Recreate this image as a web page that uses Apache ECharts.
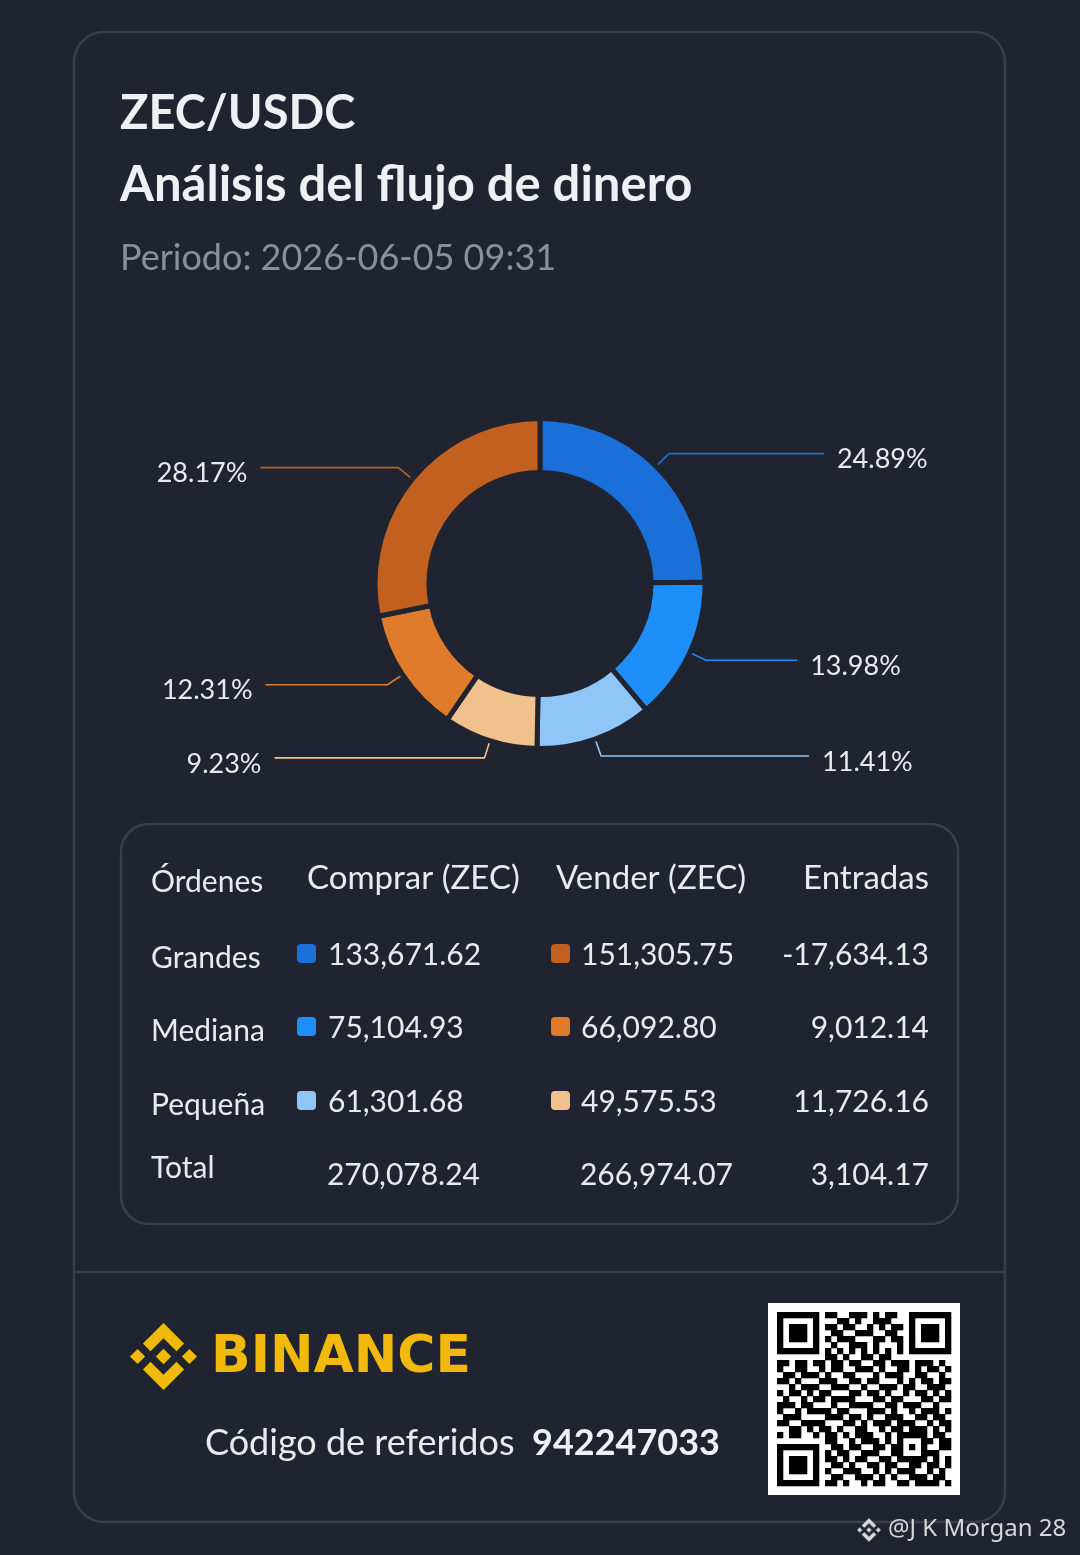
<!DOCTYPE html>
<html>
<head>
<meta charset="utf-8">
<script src="https://cdn.jsdelivr.net/npm/echarts@6/dist/echarts.min.js"></script>
<style>
html,body{margin:0;padding:0;background:#1f2430;}
#chart{width:1080px;height:1555px;}
</style>
</head>
<body>
<div id="chart"></div>
<script>
// ---- data ----
const pairName = 'ZEC/USDC';
const chartTitle = 'Análisis del flujo de dinero';
const periodText = 'Periodo: 2026-06-05 09:31';
const tableHeaders = ['Órdenes', 'Comprar (ZEC)', 'Vender (ZEC)', 'Entradas'];
const orderTypes = ['Grandes', 'Mediana', 'Pequeña'];
const buyValues = [133671.62, 75104.93, 61301.68];
const sellValues = [151305.75, 66092.80, 49575.53];
const inflowValues = [-17634.13, 9012.14, 11726.16];
const totalLabel = 'Total';
const totalValues = [270078.24, 266974.07, 3104.17];
const referralLabel = 'Código de referidos';
const referralCode = '942247033';
const watermark = '@J K Morgan 28';

// ---- styles ----
const BG = '#1f2430';
const BORDER = '#393e4a';
const buyColors = ['#1a6fd8', '#1e8ff8', '#8fc6f7'];
const sellColors = ['#c1601f', '#e07b2c', '#f0c08d'];
const labelLen2 = [155, 91, 208, 210, 122, 138];
const FONT = 'Lato, "Open Sans", sans-serif';

const pieValues = buyValues.concat(sellValues.slice().reverse());
const pieColors = buyColors.concat(sellColors.slice().reverse());
const pieNames = orderTypes.map(o => 'Comprar ' + o).concat(orderTypes.slice().reverse().map(o => 'Vender ' + o));
const pieTotal = pieValues.reduce((a, b) => a + b, 0);

const fmt = v => v.toLocaleString('en-US', {minimumFractionDigits: 2, maximumFractionDigits: 2});

const qrRows = [
  '1111111' + '0' + '1100111010110' + '0' + '1111111',
  '1000001' + '0' + '0011010011100' + '0' + '1000001',
  '1011101' + '0' + '1101100101011' + '0' + '1011101',
  '1011101' + '0' + '0110011100110' + '0' + '1011101',
  '1011101' + '0' + '1011100011011' + '0' + '1011101',
  '1000001' + '0' + '0100111010001' + '0' + '1000001',
  '1111111' + '0' + '1010101010101' + '0' + '1111111',
  '00000000' + '1101001101100' + '00000000',
  '110110' + '1' + '1' + '0110110011011' + '1' + '0111010',
  '100110' + '0' + '1011001110100110101101',
  '011011' + '1' + '0100110001011100110010',
  '110100' + '0' + '1110011011000101011011',
  '001011' + '1' + '0011100100111011001110',
  '101101' + '0' + '1100011011010010110101',
  '010010' + '1' + '1011110001101100011011',
  '111011' + '0' + '0010011110011011100100',
  '100101' + '1' + '1101100011101001011101',
  '011100' + '0' + '0111011010011100110110',
  '110011' + '1' + '1000110101110111001011',
  '001101' + '0' + '1101001100101101110101',
  '101100' + '1' + '0110101110010' + '11111' + '0110',
  '00000000' + '110010111010' + '10001' + '1011',
  '1111111' + '0' + '011011001101' + '10101' + '0011',
  '1000001' + '0' + '101100111001' + '10001' + '1100',
  '1011101' + '0' + '110101100110' + '11111' + '0101',
  '1011101' + '0' + '011010011011' + '00110' + '1101',
  '1011101' + '0' + '100111001010' + '11100' + '1010',
  '1000001' + '0' + '011001110101' + '00111' + '0110',
  '1111111' + '0' + '110100101100' + '11011' + '1101'
];

// Binance logo outline (unit box 126.61)
const logoShapes = [
  [[38.73,53.2],[63.3,28.62],[87.9,53.22],[102.2,38.91],[63.3,0],[24.42,38.9]],
  [[0,63.31],[14.3,49],[28.61,63.31],[14.3,77.61]],
  [[38.73,73.41],[63.3,98],[87.9,73.4],[102.21,87.69],[63.3,126.61],[24.42,87.72]],
  [[98,63.31],[112.3,49],[126.61,63.3],[112.3,77.62]],
  [[77.83,63.3],[63.3,48.78],[48.79,63.29],[63.3,77.8]]
];
function logo(x, y, size, style) {
  const k = size / 126.61;
  return logoShapes.map(pts => ({type: 'polygon', shape: {points: pts.map(p => [x + p[0] * k, y + p[1] * k])}, style: style}));
}

const chart = echarts.init(document.getElementById('chart'), null, {renderer: 'canvas'});

const graphics = [];
// card
graphics.push({type: 'rect', z: -10, shape: {x: 74, y: 32, width: 931, height: 1490, r: 30}, style: {fill: 'transparent', stroke: BORDER, lineWidth: 2.5}});
graphics.push({type: 'line', shape: {x1: 75, y1: 1272, x2: 1004, y2: 1272}, style: {stroke: BORDER, lineWidth: 2.5}});
// titles
graphics.push({type: 'text', x: 120, y: 114, style: {text: pairName, fill: '#eef0f3', font: 'bold 47px ' + FONT, verticalAlign: 'middle'}});
graphics.push({type: 'text', x: 120, y: 185, style: {text: chartTitle, fill: '#eef0f3', font: 'bold 49px ' + FONT, verticalAlign: 'middle'}});
graphics.push({type: 'text', x: 120, y: 258, style: {text: periodText, fill: '#8a8f99', font: '36px ' + FONT, verticalAlign: 'middle'}});
// table box
graphics.push({type: 'rect', z: -10, shape: {x: 121, y: 824, width: 837, height: 400, r: 28}, style: {fill: 'transparent', stroke: BORDER, lineWidth: 2.5}});
const hdrX = [151, 307, 556, 929];
const hdrAlign = ['left', 'left', 'left', 'right'];
tableHeaders.forEach((h, i) => {
  graphics.push({type: 'text', x: hdrX[i], y: i === 0 ? 882 : 878, style: {text: h, fill: '#e8eaed', font: (i === 0 ? '30px ' : '33px ') + FONT, align: hdrAlign[i], verticalAlign: 'middle'}});
});
const rowY = [955, 1028, 1102];
orderTypes.forEach((o, i) => {
  graphics.push({type: 'text', x: 151, y: rowY[i] + 3, style: {text: o, fill: '#e8eaed', font: '30px ' + FONT, verticalAlign: 'middle'}});
  graphics.push({type: 'rect', shape: {x: 297, y: rowY[i] - 11, width: 19, height: 19, r: 4}, style: {fill: buyColors[i]}});
  graphics.push({type: 'text', x: 328, y: rowY[i], style: {text: fmt(buyValues[i]), fill: '#e8eaed', font: '30px ' + FONT, verticalAlign: 'middle'}});
  graphics.push({type: 'rect', shape: {x: 551, y: rowY[i] - 11, width: 19, height: 19, r: 4}, style: {fill: sellColors[i]}});
  graphics.push({type: 'text', x: 581, y: rowY[i], style: {text: fmt(sellValues[i]), fill: '#e8eaed', font: '30px ' + FONT, verticalAlign: 'middle'}});
  graphics.push({type: 'text', x: 929, y: rowY[i], style: {text: fmt(inflowValues[i]), fill: '#e8eaed', font: '30px ' + FONT, align: 'right', verticalAlign: 'middle'}});
});
graphics.push({type: 'text', x: 151, y: 1168, style: {text: totalLabel, fill: '#e8eaed', font: '30px ' + FONT, verticalAlign: 'middle'}});
graphics.push({type: 'text', x: 480, y: 1175, style: {text: fmt(totalValues[0]), fill: '#e8eaed', font: '30px ' + FONT, align: 'right', verticalAlign: 'middle'}});
graphics.push({type: 'text', x: 733, y: 1175, style: {text: fmt(totalValues[1]), fill: '#e8eaed', font: '30px ' + FONT, align: 'right', verticalAlign: 'middle'}});
graphics.push({type: 'text', x: 929, y: 1175, style: {text: fmt(totalValues[2]), fill: '#e8eaed', font: '30px ' + FONT, align: 'right', verticalAlign: 'middle'}});
// Binance brand
logo(130, 1323, 67, {fill: '#f0b90b'}).forEach(g => graphics.push(g));
graphics.push({type: 'text', x: 211, y: 1358, style: {text: 'BINANCE', fill: '#f0b90b', font: 'bold 52px "DejaVu Sans", sans-serif', verticalAlign: 'middle'}});
graphics.push({type: 'text', x: 205, y: 1443, style: {text: referralLabel, fill: '#e8eaed', font: '36px ' + FONT, verticalAlign: 'middle'}});
graphics.push({type: 'text', x: 532, y: 1443, style: {text: referralCode, fill: '#eef0f3', font: 'bold 36px ' + FONT, verticalAlign: 'middle'}});
// QR
graphics.push({type: 'rect', shape: {x: 768, y: 1303, width: 192, height: 192}, style: {fill: '#ffffff'}});
qrRows.forEach((row, r) => {
  for (let c = 0; c < row.length; c++) {
    if (row[c] === '1') {
      graphics.push({type: 'rect', shape: {x: 777 + c * 6, y: 1312 + r * 6, width: 6.3, height: 6.3}, style: {fill: '#000000'}});
    }
  }
});
// watermark
logo(857, 1518, 24, {fill: '#d8d8d8', stroke: '#555a66', lineWidth: 0.8}).forEach(g => graphics.push(g));
graphics.push({type: 'text', x: 888, y: 1529, style: {text: watermark, fill: '#d8d8d8', font: '24px "Noto Sans", sans-serif', verticalAlign: 'middle'}});

chart.setOption({
  backgroundColor: BG,
  animation: false,
  series: [{
    type: 'pie',
    center: [540, 583.5],
    radius: [111, 165],
    startAngle: 90,
    clockwise: true,
    avoidLabelOverlap: false,
    itemStyle: {borderColor: BG, borderWidth: 5},
    label: {
      show: true,
      position: 'outside',
      alignTo: 'none',
      distanceToLabelLine: 13,
      formatter: p => '{s|}\n{t|' + (p.value / pieTotal * 100).toFixed(2) + '%}',
      rich: {
        s: {height: 12, lineHeight: 12, fontSize: 10},
        t: {color: '#e8eaed', fontSize: 27, fontFamily: FONT, lineHeight: 30, height: 30}
      }
    },
    labelLine: {show: true, length: 18, smooth: false, lineStyle: {width: 1.6}},
    emphasis: {disabled: true},
    data: pieValues.map((v, i) => ({
      value: v,
      name: pieNames[i],
      itemStyle: {color: pieColors[i]},
      labelLine: {length2: labelLen2[i], lineStyle: {color: pieColors[i]}}
    }))
  }],
  graphic: {elements: graphics}
});
</script>
</body>
</html>
